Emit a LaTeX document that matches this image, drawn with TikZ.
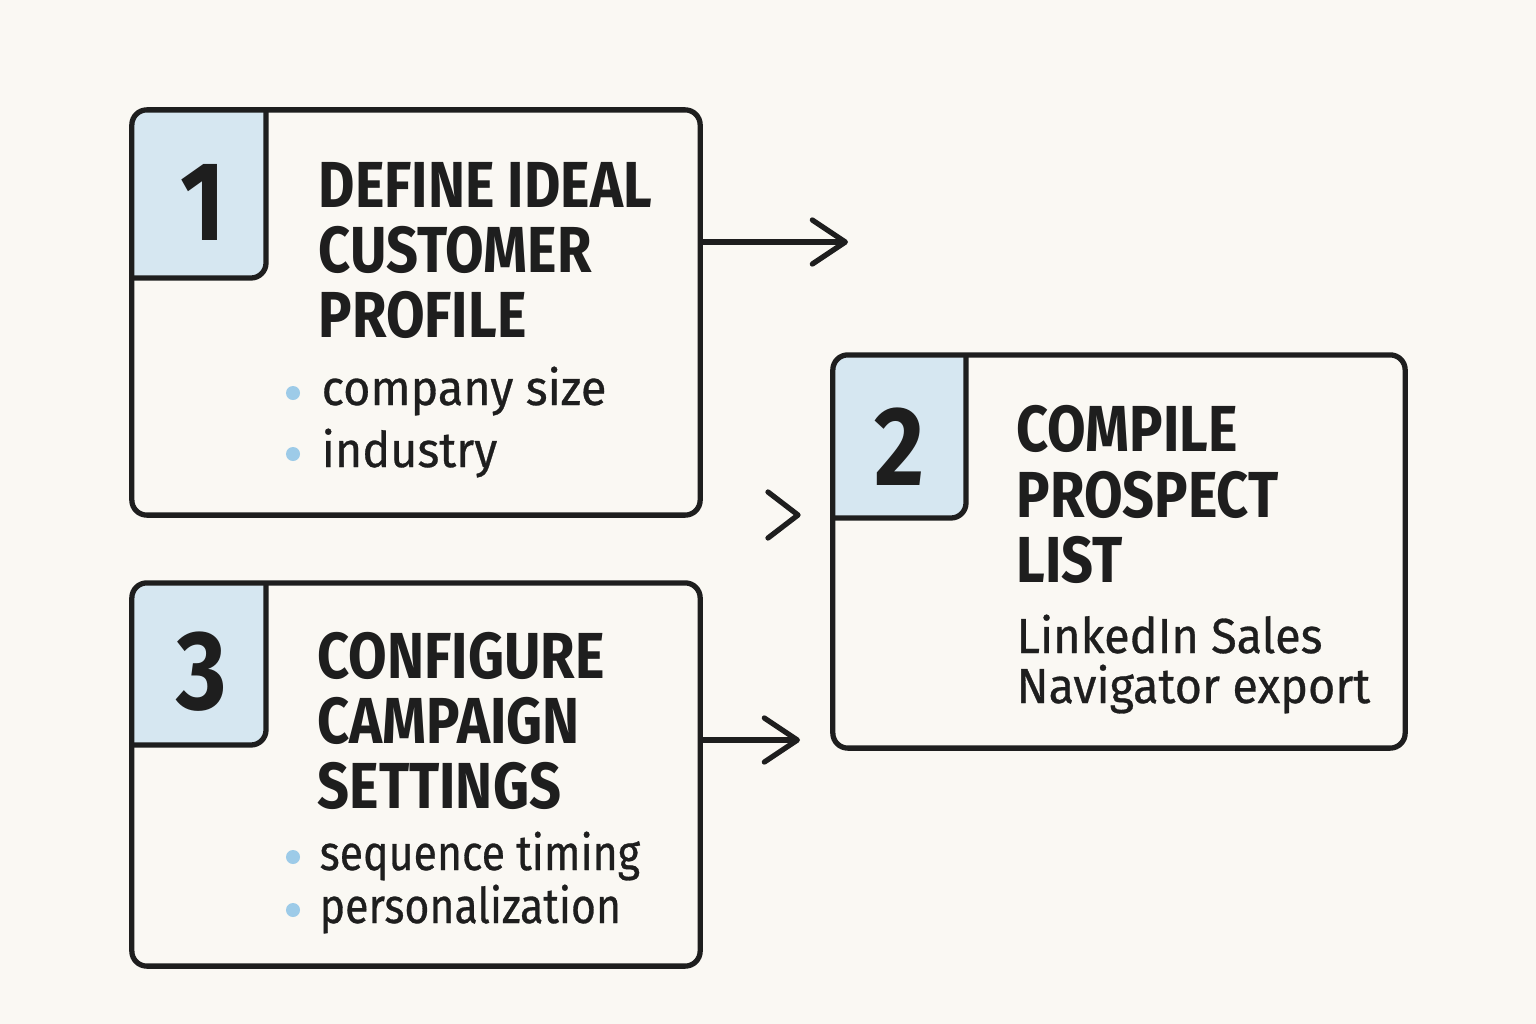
\documentclass[tikz,border=0pt]{standalone}
\usepackage{fontspec}
\setmainfont{Fira Sans}
\newfontfamily\headfont[FakeStretch=0.86]{Fira Sans}
\newfontfamily\itemfont[FakeStretch=0.95,FakeBold=0.6]{Fira Sans}
\newfontfamily\itemnarrow[FakeStretch=0.87,FakeBold=0.6]{Fira Sans}
\usetikzlibrary{arrows.meta}

\definecolor{paper}{HTML}{FAF8F3}
\definecolor{tabblue}{HTML}{D6E7F1}
\definecolor{dotblue}{HTML}{9DCBE8}
\definecolor{ink}{HTML}{1E1E1E}

\begin{document}
\begin{tikzpicture}[x=0.01cm,y=-0.01cm,
   box/.style={rectangle,draw=ink,line width=1.5pt,rounded corners=0.15cm,
    inner sep=0pt},
   num/.style={font=\headfont\bfseries\fontsize{32}{32}\selectfont,text=ink},
   head/.style={anchor=base west,inner sep=0pt,text=ink,
    font=\headfont\bfseries\fontsize{18.5}{18.5}\selectfont},
   item/.style={anchor=base west,inner sep=0pt,text=ink,
    font=\itemfont\fontsize{14}{14}\selectfont},
   dot/.style={circle,fill=dotblue,inner sep=0pt,minimum size=0.14cm},
   tabline/.style={draw=ink,line width=1.5pt,rounded corners=0.15cm},
   link/.style={draw=ink,line width=1.5pt,line cap=round,
    -{Straight Barb[length=3.3mm,width=4.4mm,line cap=round,line join=round]}}
    ]

    % Paper:
    \fill[paper] (0,0) rectangle (1536,1024);
    \useasboundingbox (0,0) rectangle (1536,1024);

    % Tabs:
    \begin{scope}
      \clip[rounded corners=0.15cm] (132,110) rectangle (700,515);
      \fill[tabblue,rounded corners=0.15cm] (110,90) rectangle (266,278);
    \end{scope}
    \begin{scope}
      \clip[rounded corners=0.15cm] (833,355) rectangle (1405,748);
      \fill[tabblue,rounded corners=0.15cm] (810,330) rectangle (966,518);
    \end{scope}
    \begin{scope}
      \clip[rounded corners=0.15cm] (132,583) rectangle (700,966);
      \fill[tabblue,rounded corners=0.15cm] (110,560) rectangle (266,745);
    \end{scope}

    % Boxes:
    \node[box,minimum width=5.68cm,minimum height=4.05cm] at (416,312.5) (box1) {};
    \node[box,minimum width=5.72cm,minimum height=3.93cm] at (1119,551.5) (box2) {};
    \node[box,minimum width=5.68cm,minimum height=3.83cm] at (416,774.5) (box3) {};

    \draw[tabline] (132,278) -- (266,278) -- (266,110);
    \draw[tabline] (833,518) -- (966,518) -- (966,355);
    \draw[tabline] (132,745) -- (266,745) -- (266,583);

    % Step 1:
    \node[num] at (203,202) (n1) {1};
    \node[head] at (318,207) (t1a) {DEFINE IDEAL};
    \node[head] at (318,272) (t1b) {CUSTOMER};
    \node[head] at (318,337) (t1c) {PROFILE};
    \node[dot] at (293,393) (d1a) {};
    \node[item] at (321,405) (i1a) {company size};
    \node[dot] at (293,454) (d1b) {};
    \node[item] at (321,467) (i1b) {industry};

    % Step 2:
    \node[num] at (900,447) (n2) {2};
    \node[head] at (1016,451) (t2a) {COMPILE};
    \node[head] at (1016,517) (t2b) {PROSPECT};
    \node[head] at (1016,582) (t2c) {LIST};
    \node[item] at (1016,653) (i2a) {LinkedIn Sales};
    \node[item] at (1016,703) (i2b) {Navigator export};

    % Step 3:
    \node[num] at (202,672) (n3) {3};
    \node[head] at (317,678) (t3a) {CONFIGURE};
    \node[head] at (317,743) (t3b) {CAMPAIGN};
    \node[head] at (317,808) (t3c) {SETTINGS};
    \node[dot] at (293,857) (d3a) {};
    \node[item,font=\itemnarrow\fontsize{14}{14}\selectfont] at (319,870) (i3a) {sequence timing};
    \node[dot] at (293,910) (d3b) {};
    \node[item,font=\itemnarrow\fontsize{14}{14}\selectfont] at (319,923) (i3b) {personalization};

    % arrows

    \coordinate (a1) at (848,242);
    \coordinate (a3) at (800,740);
    \draw[link] (box1.east |- a1) -- (a1);
    \draw[link] (box3.east |- a3) -- (a3);
    \draw[ink,line width=1.5pt,line cap=round,line join=round]
      (768,492) -- (798,515) -- (768,538); % lone chevron

\end{tikzpicture}
\end{document}
